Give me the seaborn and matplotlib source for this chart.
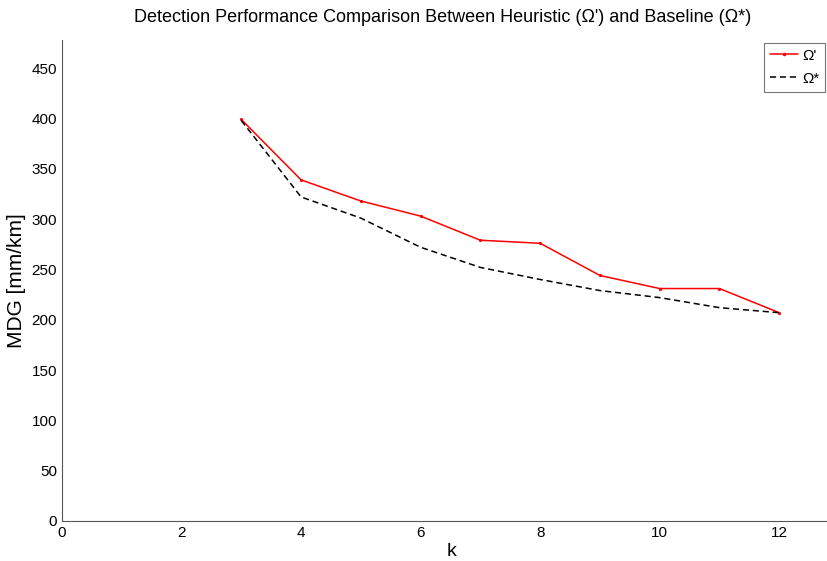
import pandas as pd
import matplotlib
matplotlib.use('Agg')
import matplotlib.pyplot as plt
import seaborn as sns
from matplotlib.lines import Line2D

# Data
k = [3, 4, 5, 6, 7, 8, 9, 10, 11, 12]
heuristic = [399, 339, 318, 303, 279, 276, 244, 231, 231, 207]
baseline = [398, 322, 301, 272, 252, 240, 229, 222, 212, 207]
labels = ["Ω'", "Ω*"]

df = pd.DataFrame({'k': k, 'heuristic': heuristic, 'baseline': baseline})

sns.set_style('white')
plt.rcParams['font.family'] = ['Liberation Sans', 'DejaVu Sans']
plt.rcParams['text.color'] = 'black'
plt.rcParams['axes.labelcolor'] = 'black'

fig = plt.figure(figsize=(8.27, 5.61), dpi=100)
ax = fig.add_axes([62 / 827, 1 - 521 / 561, 780 / 827, 481 / 561])

sns.lineplot(data=df, x='k', y='heuristic', color='red', marker='.',
             markersize=3, markeredgecolor='red', linewidth=1.1, ax=ax)
sns.lineplot(data=df, x='k', y='baseline', color='black', linestyle=(0, (4, 2.5)),
             linewidth=1.1, ax=ax)

ax.set_xlim(0, 13.05)
ax.set_ylim(0, 478)
ax.set_xticks(range(0, 13, 2))
ax.set_yticks(range(0, 451, 50))
ax.tick_params(direction='in', length=5, labelsize=11, colors='black')
for s in ['top', 'right']:
    ax.spines[s].set_visible(False)
for s in ['left', 'bottom']:
    ax.spines[s].set_color('#555555')
    ax.spines[s].set_linewidth(0.8)

ax.set_xlabel('k', fontsize=14, labelpad=2)
ax.set_ylabel('MDG [mm/km]', fontsize=15, labelpad=4)
fig.text(443 / 827, 1 - 17 / 561,
         "Detection Performance Comparison Between Heuristic (Ω') and Baseline (Ω*)",
         ha='center', va='center', fontsize=13)

# legend box in the top right corner
handles = [Line2D([], [], color='red', marker='.', markersize=3, linewidth=1.1),
           Line2D([], [], color='black', linestyle=(0, (4, 2.5)), linewidth=1.1)]
leg = fig.legend(handles, labels, loc='upper right',
                 bbox_to_anchor=(1.0, 1 - 41 / 561),
                 fontsize=11, frameon=True, fancybox=False,
                 handlelength=1.8, handletextpad=0.3, borderpad=0.4,
                 borderaxespad=0.1, labelspacing=0.6)
leg.get_frame().set_edgecolor('#555555')
leg.get_frame().set_linewidth(0.8)

fig.savefig('out.png', dpi=100)
